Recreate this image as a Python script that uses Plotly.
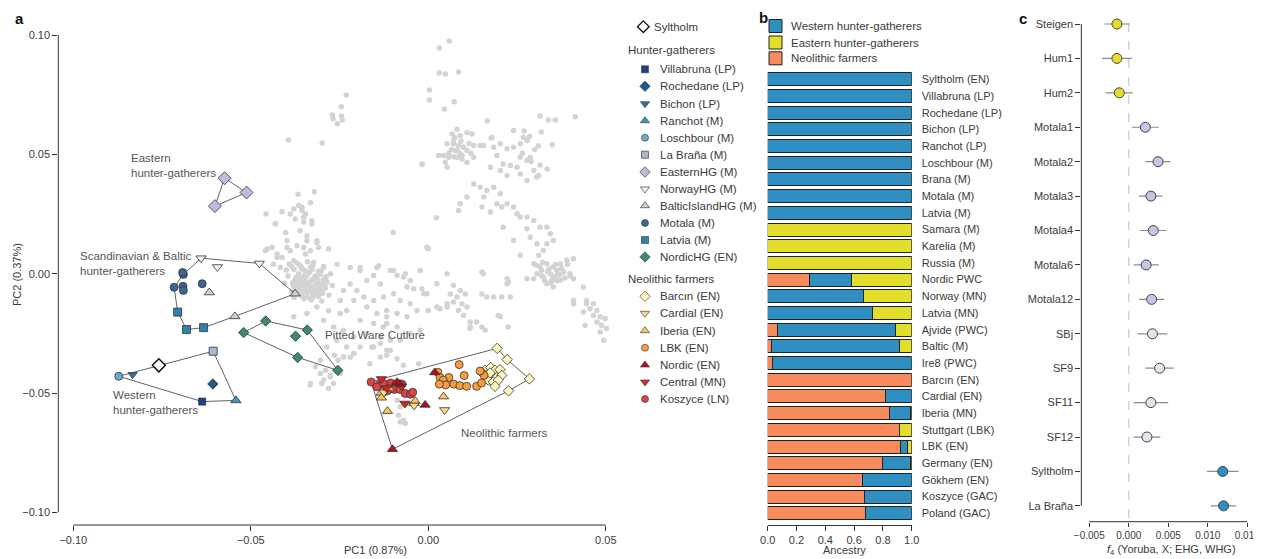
import plotly.graph_objects as go

# page is 1261x559; the html body has an 8px margin, so the figure is sized to fit inside it
PAGE_W, PAGE_H = 1261, 559
OX, OY = 8, 8
FW, FH = PAGE_W - OX, PAGE_H - OY
FONT = "Liberation Sans, Arial, Helvetica, sans-serif"
TXT = "#3a3a3a"


def X(px):
    return (px - OX) / FW


def Y(py):
    return 1 - (py - OY) / FH


# ================= Panel a : PCA data =================
# background (modern) samples, PC1/PC2
bg_points = [
    (0.0059, 0.0975), (0.0031, 0.0946), (0.0031, 0.0841), (0.0048, 0.0837), (0.0085, 0.0845),
    (0.0003, 0.0770), (0.0003, 0.0728), (0.0073, 0.0720), (0.0045, 0.0690), (-0.0231, 0.0749),
    (-0.0245, 0.0699), (-0.0270, 0.0665), (-0.0245, 0.0661), (-0.0268, 0.0649), (-0.0256, 0.0628),
    (-0.0242, 0.0644), (-0.0299, 0.0548), (-0.0017, 0.0460), (0.0166, 0.0640), (0.0315, 0.0661),
    (0.0338, 0.0644), (0.0358, 0.0644), (0.0414, 0.0657), (0.0318, 0.0594), (0.0270, 0.0598),
    (0.0349, 0.0540), (0.0310, 0.0536), (0.0335, 0.0439), (0.0177, 0.0569), (0.0023, 0.0234),
    (-0.0099, 0.0172), (0.0000, 0.0105), (-0.0321, 0.0343), (-0.0332, 0.0297), (-0.0394, 0.0560),
    (-0.0367, 0.0333), (-0.0457, 0.0250), (-0.0430, 0.0210), (-0.0402, 0.0173), (-0.0412, 0.0259),
    (-0.0389, 0.0250), (-0.0379, 0.0271), (-0.0365, 0.0286), (-0.0356, 0.0265), (-0.0351, 0.0236),
    (-0.0328, 0.0222), (-0.0361, 0.0180), (-0.0342, 0.0138), (-0.0314, 0.0131), (-0.0398, 0.0110),
    (-0.0281, 0.0103), (-0.0454, 0.0103), (-0.0426, 0.0068), (-0.0379, 0.0054), (-0.0346, 0.0082),
    (-0.0323, 0.0047), (-0.0295, 0.0026), (-0.0257, 0.0040), (-0.0192, 0.0026), (-0.0140, 0.0033),
    (-0.0098, 0.0013), (-0.0065, 0.0000),
    (-0.0356, 0.0278), (-0.0346, 0.0250), (-0.0375, 0.0229), (-0.0351, 0.0216), (-0.0328, 0.0208),
    (-0.0342, 0.0159), (-0.0314, 0.0138), (-0.0431, 0.0208), (-0.0459, 0.0096), (-0.0440, 0.0110),
    (-0.0426, 0.0082), (-0.0412, 0.0068), (-0.0389, 0.0096), (-0.0370, 0.0117), (-0.0351, 0.0110),
    (-0.0332, 0.0096), (-0.0309, 0.0110), (-0.0398, 0.0138), (-0.0436, 0.0040), (-0.0417, 0.0026),
    # European core
    (-0.0385, 0.0030), (-0.0370, 0.0045), (-0.0355, 0.0020), (-0.0340, 0.0050), (-0.0325, 0.0035),
    (-0.0310, 0.0010), (-0.0295, 0.0030), (-0.0365, 0.0000), (-0.0350, -0.0010), (-0.0335, 0.0005),
    (-0.0320, -0.0015), (-0.0305, -0.0005), (-0.0290, -0.0020), (-0.0375, -0.0025), (-0.0360, -0.0030),
    (-0.0345, -0.0035), (-0.0330, -0.0030), (-0.0315, -0.0040), (-0.0300, -0.0045), (-0.0285, -0.0035),
    (-0.0380, -0.0050), (-0.0365, -0.0055), (-0.0350, -0.0060), (-0.0335, -0.0055), (-0.0320, -0.0065),
    (-0.0305, -0.0070), (-0.0290, -0.0060), (-0.0370, -0.0080), (-0.0355, -0.0085), (-0.0340, -0.0080),
    (-0.0325, -0.0090), (-0.0310, -0.0095), (-0.0330, -0.0110), (-0.0350, -0.0105), (-0.0300, -0.0115),
    (-0.0395, -0.0010), (-0.0400, 0.0015), (-0.0275, 0.0000), (-0.0270, -0.0050), (-0.0385, -0.0075),
    (-0.0348, -0.0018), (-0.0338, -0.0045), (-0.0362, -0.0042), (-0.0312, -0.0026), (-0.0328, 0.0016),
    (-0.0358, 0.0026), (-0.0298, -0.0082), (-0.0280, -0.0090), (-0.0378, -0.0100), (-0.0405, -0.0040),
    (-0.0392, 0.0040), (-0.0378, 0.0018), (-0.0362, 0.0035), (-0.0347, 0.0012), (-0.0331, 0.0028),
    (-0.0318, -0.0010), (-0.0302, 0.0012), (-0.0288, -0.0012), (-0.0372, -0.0015), (-0.0357, -0.0020),
    (-0.0342, -0.0008), (-0.0326, -0.0024), (-0.0311, -0.0032), (-0.0296, -0.0028), (-0.0382, -0.0038),
    (-0.0367, -0.0043), (-0.0352, -0.0047), (-0.0337, -0.0040), (-0.0322, -0.0052), (-0.0306, -0.0056),
    (-0.0292, -0.0048), (-0.0376, -0.0065), (-0.0361, -0.0070), (-0.0346, -0.0068), (-0.0331, -0.0075),
    (-0.0316, -0.0080), (-0.0300, -0.0073), (-0.0356, -0.0095), (-0.0341, -0.0100), (-0.0326, -0.0102),
    # below the core, towards Pitted Ware
    (-0.0379, -0.0181), (-0.0342, -0.0167), (-0.0314, -0.0140), (-0.0281, -0.0155), (-0.0248, -0.0167),
    (-0.0295, -0.0195), (-0.0267, -0.0223), (-0.0239, -0.0237), (-0.0258, -0.0279), (-0.0230, -0.0307),
    (-0.0286, -0.0307), (-0.0304, -0.0363), (-0.0290, -0.0405), (-0.0276, -0.0433), (-0.0295, -0.0446),
    (-0.0267, -0.0460), (-0.0281, -0.0481), (-0.0248, -0.0418), (-0.0304, -0.0418), (-0.0318, -0.0390),
    (-0.0332, -0.0460), (-0.0254, -0.0363), (-0.0264, -0.0342), (-0.0220, -0.0350), (-0.0379, -0.0098),
    (-0.0361, -0.0056), (-0.0210, -0.0335), (-0.0239, -0.0349), (-0.0333, -0.0467), (-0.0300, -0.0460),
    (-0.0276, -0.0425),
    # band between core and farmers
    (-0.0220, 0.0026), (-0.0192, 0.0013), (-0.0145, 0.0026), (-0.0154, -0.0008), (-0.0173, -0.0029),
    (-0.0135, -0.0043), (-0.0107, 0.0013), (-0.0088, -0.0008), (-0.0070, -0.0014), (-0.0051, -0.0029),
    (-0.0023, 0.0013), (-0.0041, -0.0063), (-0.0060, -0.0056), (-0.0018, -0.0063), (-0.0004, -0.0084),
    (-0.0220, -0.0043), (-0.0239, -0.0070), (-0.0201, -0.0070), (-0.0248, -0.0112), (-0.0210, -0.0112),
    (-0.0182, -0.0098), (-0.0154, -0.0112), (-0.0126, -0.0098), (-0.0098, -0.0084), (-0.0079, -0.0112),
    (-0.0051, -0.0126), (-0.0173, -0.0140), (-0.0230, -0.0154), (-0.0145, -0.0167), (-0.0117, -0.0154),
    (-0.0088, -0.0167), (-0.0060, -0.0181), (-0.0032, -0.0154), (-0.0192, -0.0195), (-0.0154, -0.0209),
    (-0.0117, -0.0209), (-0.0088, -0.0223), (-0.0173, -0.0251), (-0.0135, -0.0265), (-0.0107, -0.0279),
    (-0.0079, -0.0279), (-0.0154, -0.0307), (-0.0117, -0.0321), (-0.0135, -0.0349), (-0.0192, -0.0307),
    (-0.0210, -0.0265), (-0.0023, -0.0237), (-0.0051, -0.0251), (-0.0004, 0.0111), (-0.0018, 0.0457),
    (-0.0013, -0.0084), (0.0000, -0.0154), (0.0024, -0.0140), (0.0053, -0.0126), (-0.0117, -0.0181),
    (-0.0127, -0.0223), (-0.0210, -0.0335), (-0.0239, -0.0349),
    # near the farmer cluster
    (-0.0159, -0.0307), (-0.0135, -0.0293), (-0.0107, -0.0321), (-0.0117, -0.0342), (-0.0088, -0.0356),
    (-0.0165, -0.0377), (-0.0070, -0.0384), (-0.0027, -0.0377), (-0.0084, -0.0593), (-0.0079, -0.0621),
    (-0.0065, -0.0628), (-0.0070, -0.0614), (-0.0060, -0.0544), (-0.0088, -0.0530), (-0.0079, -0.0558),
    # cluster A (top centre)
    (0.0081, 0.0605), (0.0067, 0.0585), (0.0090, 0.0578), (0.0109, 0.0592), (0.0123, 0.0585),
    (0.0053, 0.0544), (0.0071, 0.0544), (0.0085, 0.0537), (0.0099, 0.0530), (0.0128, 0.0537),
    (0.0146, 0.0537), (0.0156, 0.0537), (0.0076, 0.0516), (0.0090, 0.0502), (0.0109, 0.0516),
    (0.0043, 0.0495), (0.0029, 0.0495), (0.0057, 0.0488), (0.0081, 0.0488), (0.0095, 0.0481),
    (0.0048, 0.0467), (0.0053, 0.0446), (0.0109, 0.0467), (0.0128, 0.0488), (0.0071, 0.0558),
    (0.0179, 0.0572), (0.0075, 0.0570), (0.0092, 0.0555), (0.0065, 0.0520), (0.0082, 0.0515),
    (0.0100, 0.0530), (0.0115, 0.0545), (0.0058, 0.0505), (0.0072, 0.0490), (0.0095, 0.0495),
    (0.0120, 0.0505),
    # diagonal band
    (0.0184, 0.0530), (0.0203, 0.0544), (0.0222, 0.0523), (0.0240, 0.0530), (0.0259, 0.0544),
    (0.0268, 0.0572), (0.0278, 0.0558), (0.0259, 0.0488), (0.0278, 0.0474), (0.0287, 0.0488),
    (0.0193, 0.0495), (0.0211, 0.0460), (0.0231, 0.0453), (0.0250, 0.0446), (0.0297, 0.0432),
    (0.0311, 0.0411), (0.0175, 0.0446), (0.0203, 0.0432), (0.0222, 0.0411), (0.0259, 0.0418),
    (0.0278, 0.0390), (0.0128, 0.0376), (0.0146, 0.0362), (0.0165, 0.0348), (0.0184, 0.0362),
    (0.0203, 0.0335), (0.0156, 0.0321), (0.0193, 0.0293), (0.0207, 0.0279), (0.0222, 0.0293),
    (0.0240, 0.0279), (0.0250, 0.0251), (0.0259, 0.0237), (0.0278, 0.0237), (0.0297, 0.0223),
    (0.0315, 0.0195), (0.0334, 0.0195), (0.0344, 0.0167), (0.0090, 0.0293), (0.0085, 0.0265),
    (0.0109, 0.0321), (0.0151, 0.0279), (0.0175, 0.0258), (0.0211, 0.0195), (0.0240, 0.0139),
    (0.0287, 0.0153), (0.0306, 0.0125), (0.0334, 0.0125), (0.0352, 0.0139), (0.0324, 0.0097),
    (0.0278, 0.0188), (0.0240, 0.0600), (0.0285, 0.0575), (0.0300, 0.0520), (0.0265, 0.0505),
    (0.0290, 0.0470), (0.0315, 0.0455), (0.0305, 0.0405),
    # dense cluster right
    (0.0297, 0.0042), (0.0315, 0.0028), (0.0334, 0.0042), (0.0352, 0.0028), (0.0372, 0.0042),
    (0.0390, 0.0056), (0.0409, 0.0063), (0.0306, 0.0000), (0.0324, -0.0014), (0.0344, 0.0000),
    (0.0362, -0.0007), (0.0381, 0.0007), (0.0399, 0.0000), (0.0334, -0.0042), (0.0352, -0.0056),
    (0.0372, -0.0028), (0.0297, -0.0021), (0.0409, -0.0021), (0.0278, -0.0021), (0.0348, -0.0028),
    (0.0319, 0.0014), (0.0362, 0.0014), (0.0311, 0.0077), (0.0259, 0.0077), (0.0222, -0.0021),
    (0.0226, -0.0035), (0.0305, 0.0035), (0.0322, 0.0048), (0.0340, 0.0020), (0.0358, 0.0038),
    (0.0375, 0.0022), (0.0392, 0.0040), (0.0318, -0.0008), (0.0336, 0.0008), (0.0352, -0.0015),
    (0.0370, -0.0005), (0.0385, -0.0018), (0.0345, -0.0038), (0.0362, -0.0030), (0.0328, -0.0030),
    (0.0400, -0.0010),
    # right tail
    (0.0437, -0.0056), (0.0409, -0.0112), (0.0446, -0.0112), (0.0465, -0.0126), (0.0456, -0.0147),
    (0.0475, -0.0154), (0.0465, -0.0175), (0.0484, -0.0181), (0.0498, -0.0188), (0.0475, -0.0202),
    (0.0488, -0.0216), (0.0502, -0.0230), (0.0484, -0.0244), (0.0442, -0.0216), (0.0494, -0.0279),
    (0.0409, -0.0126), (0.0437, -0.0161), (0.0446, -0.0126),
    # lower middle cluster
    (0.0071, -0.0049), (0.0090, -0.0070), (0.0062, -0.0085), (0.0081, -0.0098), (0.0104, -0.0085),
    (0.0071, -0.0119), (0.0095, -0.0126), (0.0053, -0.0140), (0.0109, -0.0140), (0.0085, -0.0154),
    (0.0033, -0.0147), (0.0099, -0.0175), (0.0118, -0.0202), (0.0118, -0.0223), (0.0136, -0.0202),
    (0.0160, -0.0237), (0.0197, -0.0175), (0.0225, -0.0223), (0.0151, -0.0085), (0.0165, -0.0098),
    (0.0184, -0.0098), (0.0207, -0.0098), (0.0231, -0.0098), (0.0151, 0.0007), (0.0222, -0.0042),
    (0.0024, -0.0042), (0.0053, 0.0000), (0.0155, 0.0000), (0.0203, -0.0181), (0.0117, -0.0230),
    (0.0151, -0.0223),
]
bg_x = [p[0] for p in bg_points]
bg_y = [p[1] for p in bg_points]

syltholm_x, syltholm_y = [-0.0759], [-0.0384]
villabruna_x, villabruna_y = [-0.0637], [-0.0536]
rochedane_x, rochedane_y = [-0.0607], [-0.0462]
bichon_x, bichon_y = [-0.0833], [-0.0423]
ranchot_x, ranchot_y = [-0.0542], [-0.0531]
loschbour_x, loschbour_y = [-0.0872], [-0.0430]
labrana_x, labrana_y = [-0.0606], [-0.0325]
easternhg_x = [-0.0574, -0.0512, -0.0601]
easternhg_y = [0.0400, 0.0340, 0.0283]
norwayhg_x = [-0.0640, -0.0594, -0.0476]
norwayhg_y = [0.0065, 0.0028, 0.0043]
balticisland_x = [-0.0617, -0.0375, -0.0545]
balticisland_y = [-0.0079, -0.0084, -0.0179]
motala_x = [-0.0690, -0.0692, -0.0691, -0.0716, -0.0690, -0.0637]
motala_y = [-0.0003, 0.0005, -0.0053, -0.0057, -0.0070, -0.0042]
latvia_x = [-0.0706, -0.0681, -0.0633]
latvia_y = [-0.0161, -0.0234, -0.0226]
nordichg_x = [-0.0520, -0.0458, -0.0341, -0.0374, -0.0368, -0.0255]
nordichg_y = [-0.0247, -0.0198, -0.0236, -0.0262, -0.0351, -0.0405]

barcin_x = [0.0194, 0.0222, 0.0285, 0.0226, 0.0160, 0.0176, 0.0188, 0.0202, 0.0164,
            0.0179, 0.0193, 0.0207, 0.0169, 0.0183, 0.0197, 0.0188, 0.0153, 0.0174]
barcin_y = [-0.0313, -0.0360, -0.0441, -0.0491, -0.0405, -0.0393, -0.0405, -0.0402, -0.0426,
            -0.0430, -0.0435, -0.0426, -0.0446, -0.0454, -0.0446, -0.0472, -0.0418, -0.0416]
cardial_x = [0.0046, -0.0040, -0.0125]
cardial_y = [-0.0571, -0.0552, -0.0497]
iberia_x = [-0.0133, -0.0132, -0.0115, -0.0040, -0.0037, 0.0043, -0.0110]
iberia_y = [-0.0500, -0.0520, -0.0576, -0.0543, -0.0534, -0.0515, -0.0481]
lbk_x = [0.0027, 0.0033, 0.0058, 0.0042, 0.0049, 0.0072, 0.0089, 0.0108, 0.0087, 0.0101,
         0.0136, 0.0150, 0.0157, 0.0146, 0.0031]
lbk_y = [-0.0413, -0.0435, -0.0435, -0.0446, -0.0466, -0.0463, -0.0469, -0.0472, -0.0381, -0.0427,
         -0.0472, -0.0458, -0.0426, -0.0408, -0.0463]
nordic_x = [-0.0101, 0.0018, -0.0009, -0.0080, -0.0088]
nordic_y = [-0.0736, -0.0414, -0.0550, -0.0462, -0.0455]
central_x = [-0.0132, -0.0066, -0.0075, -0.0117]
central_y = [-0.0441, -0.0544, -0.0472, -0.0479]
koszyce_x = [-0.0161, -0.0136, -0.0119, -0.0106, -0.0091, -0.0115, -0.0096, -0.0080, -0.0065,
             -0.0050, -0.0044, -0.0145, -0.0074, -0.0127]
koszyce_y = [-0.0454, -0.0463, -0.0472, -0.0458, -0.0463, -0.0491, -0.0485, -0.0485, -0.0502,
             -0.0505, -0.0497, -0.0474, -0.0463, -0.0460]

# convex hulls (vertex order)
hull_whg_x = [-0.0872, -0.0759, -0.0606, -0.0542, -0.0637]
hull_whg_y = [-0.0430, -0.0384, -0.0325, -0.0531, -0.0536]
hull_ehg_x = [-0.0574, -0.0512, -0.0601]
hull_ehg_y = [0.0400, 0.0340, 0.0283]
hull_scand_x = [-0.0690, -0.0640, -0.0476, -0.0375, -0.0545, -0.0633, -0.0681, -0.0706, -0.0716]
hull_scand_y = [-0.0003, 0.0065, 0.0043, -0.0084, -0.0179, -0.0226, -0.0234, -0.0161, -0.0057]
hull_pwc_x = [-0.0520, -0.0458, -0.0341, -0.0255, -0.0368]
hull_pwc_y = [-0.0247, -0.0198, -0.0236, -0.0405, -0.0351]
hull_neo_x = [-0.0161, -0.0132, 0.0194, 0.0222, 0.0285, 0.0226, -0.0101]
hull_neo_y = [-0.0454, -0.0441, -0.0313, -0.0360, -0.0441, -0.0491, -0.0736]

# ================= Panel b : ancestry =================
b_labels = ["Syltholm (EN)", "Villabruna (LP)", "Rochedane (LP)", "Bichon (LP)", "Ranchot (LP)",
            "Loschbour (M)", "Brana (M)", "Motala (M)", "Latvia (M)", "Samara (M)", "Karelia (M)",
            "Russia (M)", "Nordic PWC", "Norway (MN)", "Latvia (MN)", "Ajvide (PWC)", "Baltic (M)",
            "Ire8 (PWC)", "Barcın (EN)", "Cardial (EN)", "Iberia (MN)", "Stuttgart (LBK)",
            "LBK (EN)", "Germany (EN)", "Gökhem (EN)", "Koszyce (GAC)", "Poland (GAC)"]
farmer_anc = [None] * 12 + [0.29, None, None, 0.065, 0.025, 0.035, 1.0, 0.815, 0.845, 0.915,
                            0.925, 0.80, 0.655, 0.67, 0.68]
whg_anc = [1.0] * 9 + [None] * 3 + [0.29, 0.665, 0.73, 0.82, 0.89, 0.965, None, 0.185, 0.15,
                                    None, 0.045, 0.195, 0.345, 0.33, 0.32]
ehg_anc = [None] * 9 + [1.0] * 3 + [0.42, 0.335, 0.27, 0.115, 0.085, None, None, None, 0.005,
                                    0.085, 0.03, 0.005, None, None, None]

# ================= Panel c : f4 =================
c_labels = ["Steigen", "Hum1", "Hum2", "Motala1", "Motala2", "Motala3", "Motala4", "Motala6",
            "Motala12", "SBj", "SF9", "SF11", "SF12", "Syltholm", "La Braña"]
f4_vals = [-0.0015, -0.0015, -0.0012, 0.0021, 0.0037, 0.0028, 0.0031, 0.0022, 0.0029, 0.0030,
           0.0039, 0.0028, 0.0023, 0.0119, 0.0120]
f4_err = [0.0016, 0.0019, 0.0017, 0.0017, 0.0016, 0.0015, 0.0017, 0.0016, 0.0016, 0.0019,
          0.0018, 0.0022, 0.0017, 0.0020, 0.0016]
c_colors = ["#E4DD2B"] * 3 + ["#C2C7E2"] * 6 + ["#E3E3EF"] * 4 + ["#2F8FC0"] * 2

# ================= figure =================
fig = go.Figure()

fig.add_trace(go.Scatter(x=bg_x, y=bg_y, mode="markers", xaxis="x", yaxis="y",
                         marker=dict(size=5.5, color="#d3d3d3"), cliponaxis=False,
                         hoverinfo="skip", showlegend=False))

for hx, hy in [(hull_whg_x, hull_whg_y), (hull_ehg_x, hull_ehg_y), (hull_scand_x, hull_scand_y),
               (hull_pwc_x, hull_pwc_y), (hull_neo_x, hull_neo_y)]:
    fig.add_trace(go.Scatter(x=hx + [hx[0]], y=hy + [hy[0]], mode="lines", xaxis="x", yaxis="y",
                             line=dict(color="#505050", width=0.9), cliponaxis=False,
                             hoverinfo="skip", showlegend=False))

OUT = dict(color="#333333", width=0.8)
groups = [
    ("Villabruna (LP)", villabruna_x, villabruna_y, "square", "#1B3F8B", 7),
    ("Rochedane (LP)", rochedane_x, rochedane_y, "diamond", "#1E5A8C", 8),
    ("Bichon (LP)", bichon_x, bichon_y, "triangle-down", "#2473AE", 8),
    ("Ranchot (M)", ranchot_x, ranchot_y, "triangle-up", "#3B98C6", 9),
    ("Loschbour (M)", loschbour_x, loschbour_y, "circle", "#6FA9D2", 8),
    ("La Braña (M)", labrana_x, labrana_y, "square", "#A7B9D4", 8),
    ("EasternHG (M)", easternhg_x, easternhg_y, "diamond", "#BCBDDC", 10),
    ("NorwayHG (M)", norwayhg_x, norwayhg_y, "triangle-down", "#F2F2F7", 9),
    ("BalticIslandHG (M)", balticisland_x, balticisland_y, "triangle-up", "#CDCDE2", 9),
    ("Motala (M)", motala_x, motala_y, "circle", "#3F6596", 8),
    ("Latvia (M)", latvia_x, latvia_y, "square", "#2D83AE", 8),
    ("NordicHG (EN)", nordichg_x, nordichg_y, "diamond", "#3C8B70", 8),
    ("Barcın (EN)", barcin_x, barcin_y, "diamond", "#FFF6BF", 8),
    ("LBK (EN)", lbk_x, lbk_y, "circle", "#F89D3E", 8),
    ("Koszyce (LN)", koszyce_x, koszyce_y, "circle", "#DF4444", 8),
    ("Iberia (EN)", iberia_x, iberia_y, "triangle-up", "#FDC55E", 9),
    ("Cardial (EN)", cardial_x, cardial_y, "triangle-down", "#FDDC85", 9),
    ("Central (MN)", central_x, central_y, "triangle-down", "#E21F1F", 9),
    ("Nordic (EN)", nordic_x, nordic_y, "triangle-up", "#AE1020", 9),
    ("Syltholm", syltholm_x, syltholm_y, "diamond", "#FFFFFF", 10),
]
for name, gx, gy, sym, col, sz in groups:
    line = dict(color="#111111", width=1.5) if name == "Syltholm" else OUT
    fig.add_trace(go.Scatter(x=gx, y=gy, mode="markers", name=name, xaxis="x", yaxis="y",
                             marker=dict(symbol=sym, color=col, size=sz, line=line),
                             cliponaxis=False, showlegend=False))

# legend for panel a (drawn on a page-pixel overlay axis)
leg_a = [
    ("Syltholm", "diamond", "#FFFFFF", 26.7, 643.3, 651.5),
    ("Villabruna (LP)", "square", "#1B3F8B", 69.3, 645, 658),
    ("Rochedane (LP)", "diamond", "#1E5A8C", 86.3, 645, 658),
    ("Bichon (LP)", "triangle-down", "#2473AE", 103.7, 645, 658),
    ("Ranchot (M)", "triangle-up", "#3B98C6", 120.7, 645, 658),
    ("Loschbour (M)", "circle", "#6FA9D2", 137.7, 645, 658),
    ("La Braña (M)", "square", "#A7B9D4", 154.7, 645, 658),
    ("EasternHG (M)", "diamond", "#BCBDDC", 172, 645, 658),
    ("NorwayHG (M)", "triangle-down", "#F2F2F7", 189, 645, 658),
    ("BalticIslandHG (M)", "triangle-up", "#CDCDE2", 205.7, 645, 658),
    ("Motala (M)", "circle", "#3F6596", 223, 645, 658),
    ("Latvia (M)", "square", "#2D83AE", 240, 645, 658),
    ("NordicHG (EN)", "diamond", "#3C8B70", 257, 645, 658),
    ("Barcın (EN)", "diamond", "#FFF6BF", 296.3, 645, 658),
    ("Cardial (EN)", "triangle-down", "#FDDC85", 313.3, 645, 658),
    ("Iberia (EN)", "triangle-up", "#FDC55E", 330.7, 645, 658),
    ("LBK (EN)", "circle", "#F89D3E", 347.7, 645, 658),
    ("Nordic (EN)", "triangle-up", "#AE1020", 365, 645, 658),
    ("Central (MN)", "triangle-down", "#E21F1F", 382, 645, 658),
    ("Koszyce (LN)", "circle", "#DF4444", 399, 645, 658),
]
annotations = []
for name, sym, col, py, mx, tx in leg_a:
    line = dict(color="#111111", width=1.3) if name == "Syltholm" else dict(color="#444", width=0.7)
    sz = 9 if name == "Syltholm" else (8 if sym in ("diamond", "triangle-up", "triangle-down") else 7)
    fig.add_trace(go.Scatter(x=[mx], y=[py], mode="markers", xaxis="x4", yaxis="y4",
                             marker=dict(symbol=sym, color=col, size=sz, line=line),
                             hoverinfo="skip", showlegend=False, cliponaxis=False))
    annotations.append(dict(x=X(tx), y=Y(py), xref="paper", yref="paper", text=name,
                            showarrow=False, xanchor="left", yanchor="middle",
                            font=dict(size=11.5, color=TXT)))
for txt, py in [("Hunter-gatherers", 49.5), ("Neolithic farmers", 279)]:
    annotations.append(dict(x=X(625.5), y=Y(py), xref="paper", yref="paper", text=txt,
                            showarrow=False, xanchor="left", yanchor="middle",
                            font=dict(size=11.5, color=TXT)))

# legend for panel b
leg_b = [("Western hunter-gatherers", "#2F8FC0", 26), ("Eastern hunter-gatherers", "#E3DE2A", 42.5),
         ("Neolithic farmers", "#F88B5E", 58.3)]
for name, col, py in leg_b:
    fig.add_trace(go.Scatter(x=[775.5], y=[py], mode="markers", xaxis="x4", yaxis="y4",
                             marker=dict(symbol="square", color=col, size=13,
                                         line=dict(color="#222", width=1)),
                             hoverinfo="skip", showlegend=False, cliponaxis=False))
    annotations.append(dict(x=X(789), y=Y(py), xref="paper", yref="paper", text=name,
                            showarrow=False, xanchor="left", yanchor="middle",
                            font=dict(size=11.5, color=TXT)))

# bars (panel b)
b_idx = list(range(len(b_labels)))
for name, vals, col in [("Neolithic farmers", farmer_anc, "#F88B5E"),
                        ("Western hunter-gatherers", whg_anc, "#2F8FC0"),
                        ("Eastern hunter-gatherers", ehg_anc, "#E3DE2A")]:
    fig.add_trace(go.Bar(x=vals, y=b_idx, orientation="h", name=name, xaxis="x2", yaxis="y2",
                         marker=dict(color=col, line=dict(color="#222222", width=1)),
                         width=0.78, cliponaxis=False, showlegend=False))

# f4 (panel c)
fig.add_trace(go.Scatter(x=f4_vals, y=list(range(len(c_labels))), mode="markers",
                         xaxis="x3", yaxis="y3",
                         error_x=dict(type="data", array=f4_err, color="#8c8c8c",
                                      thickness=1.2, width=0),
                         marker=dict(size=10, color=c_colors, line=dict(color="#444", width=1)),
                         cliponaxis=False, showlegend=False))

# panel labels & texts
for txt, px, py in [("a", 19, 19), ("b", 763, 18), ("c", 1022.5, 19)]:
    annotations.append(dict(x=X(px), y=Y(py), xref="paper", yref="paper", text="<b>%s</b>" % txt,
                            showarrow=False, xanchor="center", yanchor="middle",
                            font=dict(size=15, color="#111")))
for txt, px, py in [("Eastern<br>hunter-gatherers", 128.5, 165),
                    ("Scandinavian &amp; Baltic<br>hunter-gatherers", 77.5, 263.5),
                    ("Pitted Ware Cutlure", 322.5, 335),
                    ("Western<br>hunter-gatherers", 110.5, 402.5),
                    ("Neolithic farmers", 459, 433.3)]:
    annotations.append(dict(x=X(px), y=Y(py), xref="paper", yref="paper", text=txt,
                            showarrow=False, xanchor="left", yanchor="middle", align="left",
                            font=dict(size=11.5, color="#555")))
# axis titles
for txt, px, py, ang in [("PC1 (0.87%)", 375, 550, 0), ("PC2 (0.37%)", 17, 275, -90),
                         ("Ancestry", 844, 550, 0),
                         ("<i>f</i><sub>4</sub> (Yoruba, X; EHG, WHG)", 1171, 550, 0)]:
    annotations.append(dict(x=X(px), y=Y(py), xref="paper", yref="paper", text=txt,
                            showarrow=False, textangle=ang, xanchor="center", yanchor="middle",
                            font=dict(size=11, color=TXT)))

SP = dict(color="#333333", width=1)
shapes = [
    dict(type="line", xref="x", yref="paper", x0=-0.1, x1=0.05, y0=Y(525), y1=Y(525), line=SP),
    dict(type="line", xref="paper", yref="y", x0=X(58.3), x1=X(58.3), y0=-0.1, y1=0.1, line=SP),
    dict(type="line", xref="x3", yref="paper", x0=-0.005, x1=0.015, y0=Y(521.7), y1=Y(521.7), line=SP),
    dict(type="line", xref="paper", yref="y3", x0=X(1081.3), x1=X(1081.3), y0=0, y1=14, line=SP),
    dict(type="line", xref="x3", yref="paper", x0=0, x1=0, y0=Y(518), y1=Y(16), layer="below",
         line=dict(color="#d2d2d2", width=1.5, dash="dash")),
]

TF = dict(size=11, color=TXT, family=FONT)
common = dict(showgrid=False, zeroline=False, tickfont=TF, tickcolor="#333", automargin=False)
common_c = dict(showgrid=False, zeroline=False, tickcolor="#333", automargin=False,
                tickfont=dict(size=10, color=TXT, family=FONT))

fig.update_layout(
    width=FW, height=FH, margin=dict(l=0, r=0, t=0, b=0, pad=0, autoexpand=False),
    paper_bgcolor="white", plot_bgcolor="rgba(0,0,0,0)",
    font=dict(family=FONT, color=TXT), barmode="stack", showlegend=False,
    xaxis=dict(domain=[X(58.3), X(612.9)], range=[-0.10423, 0.052], anchor="y",
               showline=False, ticks="outside", ticklen=5,
               tickvals=[-0.1, -0.05, 0, 0.05], tickformat=".2f", **common),
    yaxis=dict(domain=[Y(525), Y(34.3)], range=[-0.10531, 0.1003], anchor="x",
               showline=False, ticks="outside", ticklen=5,
               tickvals=[-0.1, -0.05, 0, 0.05, 0.1], tickformat=".2f", **common),
    xaxis2=dict(domain=[X(767.7), X(911.7)], range=[0, 1], anchor="y2",
                showline=True, linecolor="#333", linewidth=1, ticks="outside", ticklen=5,
                tickvals=[0, 0.2, 0.4, 0.6, 0.8, 1.0], tickformat=".1f", **common),
    yaxis2=dict(domain=[Y(525), Y(70)], range=[26.70, -0.557], anchor="x2", side="right",
                showline=False, ticks="", tickvals=b_idx, ticktext=b_labels,
                ticklabelstandoff=9, **common),
    xaxis3=dict(domain=[X(1081.3), X(1251.2)], range=[-0.00601, 0.0155], anchor="y3",
                showline=False, ticks="outside", ticklen=4, ticklabeloverflow="allow",
                tickvals=[-0.005, 0, 0.005, 0.01, 0.015], tickformat=".3f", **common_c),
    yaxis3=dict(domain=[Y(521.7), Y(12)], range=[14.46, -0.349], anchor="x3",
                showline=False, ticks="outside", ticklen=5,
                tickvals=list(range(len(c_labels))), ticktext=c_labels, **common),
    xaxis4=dict(domain=[0, 1], range=[OX, PAGE_W], anchor="y4", visible=False, fixedrange=True),
    yaxis4=dict(domain=[0, 1], range=[PAGE_H, OY], anchor="x4", visible=False, fixedrange=True),
    annotations=annotations, shapes=shapes,
)

# hide page scrollbars so the full figure width stays visible
fig.write_html("out.html",
               post_script="document.documentElement.style.overflow='hidden';"
                           "document.body.style.overflow='hidden';")
